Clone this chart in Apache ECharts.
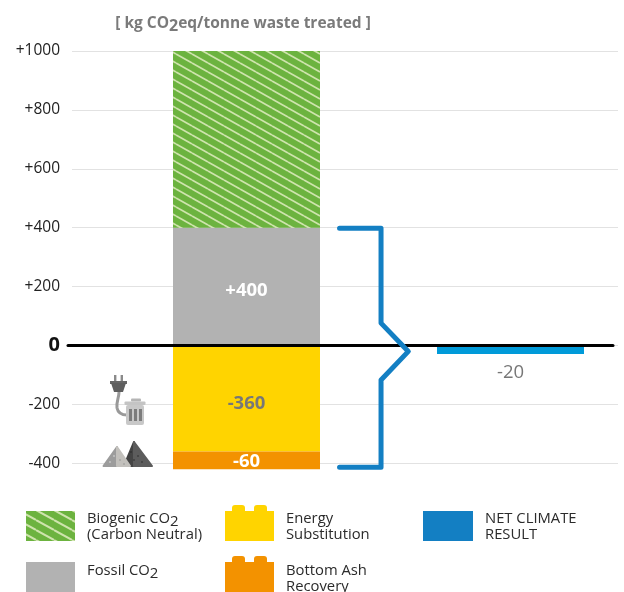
<!DOCTYPE html>
<html><head><meta charset="utf-8">
<style>html,body{margin:0;padding:0;background:#fff}#c{width:624px;height:592px}</style>
<script src="https://cdn.jsdelivr.net/npm/echarts@6/dist/echarts.min.js"></script></head>
<body><div id="c"></div>
<script>
const categories = ['Gross emissions', 'Net climate result'];
const yTicks = {min: -400, max: 1000, step: 200};
const fossil = [400, null];
const biogenic = [600, null];
const energy = [-360, null];
const ash = [-60, null];
const net = [null, -20];
const bracketX = [49.0, 56.6, 56.6, 61.6, 56.6, 56.6, 49.0];
const bracketY = [398, 398, 76, -20, -117, -413, -413];

const FONT = '"Open Sans"';
const chart = echarts.init(document.getElementById('c'), null, {renderer: 'canvas'});

function hatch(w, h, lw) {
  const c = document.createElement('canvas'); c.width = w; c.height = h;
  const g = c.getContext('2d');
  g.fillStyle = '#6cb33f'; g.fillRect(0, 0, w, h);
  g.strokeStyle = '#cfe4ad'; g.lineWidth = lw;
  for (const d of [-h, 0, h]) { g.beginPath(); g.moveTo(0, d); g.lineTo(w, d + h); g.stroke(); }
  return {image: c, repeat: 'repeat'};
}
const barHatch = hatch(16, 9, 1.7);
const swatchHatch = hatch(18, 10, 2);

const sign = v => (v > 0 ? '+' : '') + v;
const barLabel = (color, dy, weight = 'bold') => ({
  show: true, position: 'inside', offset: [0, dy], color, fontFamily: FONT, fontSize: 18.5, fontWeight: weight,
  formatter: p => sign(p.value)
});
const common = {type: 'bar', stack: 'total', xAxisIndex: 1, yAxisIndex: 1, barWidth: 147, z: 2, clip: false};

function txt(x, y, text) {
  return {type: 'text', x, y, z: 30, style: {
    text, fontFamily: FONT, fontSize: 14.8, fill: '#2b2b2b', verticalAlign: 'middle',
    rich: {s: {fontFamily: FONT, fontSize: 15, fill: '#2b2b2b', padding: [5, 0, 0, 0]}}
  }};
}
const rect = (x, y, w, h, fill, r) => ({type: 'rect', z: 30, shape: {x, y, width: w, height: h, r: r || 0}, style: {fill}});
const poly = (points, fill, lw) => ({type: 'polygon', z: 30, shape: {points},
  style: {fill, stroke: lw ? fill : null, lineWidth: lw || 0, lineJoin: 'round'}});
const dot = (x, y, fill) => ({type: 'circle', z: 31, shape: {cx: x, cy: y, r: 0.7}, style: {fill}});
const lego = (x, y, fill) => [
  rect(x, y, 49, 30, fill),
  rect(x + 7, y - 6, 13, 8, fill, [3, 3, 0, 0]),
  rect(x + 29, y - 6, 13, 8, fill, [3, 3, 0, 0])
];

const graphics = [
  rect(26, 511, 49, 30, swatchHatch),
  rect(26, 562, 49, 30, '#b2b2b2'),
  ...lego(225, 511, '#ffd400'),
  ...lego(225, 562, '#f39200'),
  rect(423, 511, 50, 30, '#137fc3'),
  txt(87, 519, 'Biogenic CO{s|2}'), txt(87, 535, '(Carbon Neutral)'),
  txt(87, 571, 'Fossil CO{s|2}'),
  txt(286, 519, 'Energy'), txt(286, 535, 'Substitution'),
  txt(286, 571, 'Bottom Ash'), txt(286, 587, 'Recovery'),
  txt(485, 519, 'NET CLIMATE'), txt(485, 535, 'RESULT'),
  // plug and bin icon
  rect(114, 375, 2.4, 7, '#8a8a8a'), rect(120.6, 375, 2.4, 7, '#8a8a8a'),
  rect(110, 381, 17, 3, '#666'),
  poly([[111, 383], [126, 383], [123, 392], [114, 392]], '#5e5e5e'),
  {type: 'bezierCurve', z: 30, shape: {x1: 119, y1: 392, cpx1: 119, cpy1: 398, cpx2: 116, cpy2: 402, x2: 117, y2: 408},
    style: {fill: 'none', stroke: '#999', lineWidth: 3}},
  {type: 'bezierCurve', z: 30, shape: {x1: 117, y1: 408, cpx1: 118, cpy1: 413, cpx2: 121, cpy2: 415, x2: 127, y2: 415},
    style: {fill: 'none', stroke: '#999', lineWidth: 3}},
  rect(131, 398.5, 10, 3, '#b5b5b5', 1),
  rect(124.5, 401.5, 21, 3.5, '#c4c4c4', 1),
  rect(126, 405, 18, 20, '#c8c8c8', 2),
  rect(129, 409, 3, 12, '#7c7c7c'), rect(134, 409, 3, 12, '#7c7c7c'), rect(139, 409, 3, 12, '#7c7c7c'),
  // ash piles icon
  poly([[134, 442], [124, 466], [134, 466]], '#444', 2),
  poly([[134, 442], [152, 466], [134, 466]], '#5c5c5c', 2),
  poly([[117, 447], [103.5, 466], [117, 466]], '#9c9c9c', 2),
  poly([[117, 447], [117, 466], [130, 466]], '#c2c0bc', 2),
  dot(110, 462, '#eee'), dot(114, 456, '#eee'), dot(120, 460, '#888'), dot(124, 464, '#888'),
  dot(131, 452, '#222'), dot(138, 456, '#222'), dot(142, 462, '#222'), dot(134, 460, '#222')
];

chart.setOption({
  animation: false,
  backgroundColor: '#fff',
  title: {
    text: '[ kg CO{s|2}eq/tonne waste treated ]', left: 238, top: 8, textAlign: 'center',
    textStyle: {
      fontFamily: FONT, fontSize: 15.5, fontWeight: 'bold', color: '#7a7a7a',
      rich: {s: {fontFamily: FONT, fontSize: 16, fontWeight: 'bold', color: '#7a7a7a', padding: [5, 0, 0, 0]}}
    }
  },
  grid: [
    {left: 72, width: 546, top: 51, height: 412.3},
    {left: 246.5, width: 264, top: 51, height: 441.75},
    {left: 68, width: 545, top: 51, height: 412.3}
  ],
  xAxis: [
    {gridIndex: 0, type: 'value', min: 0, max: 100, show: false},
    {gridIndex: 1, type: 'category', data: categories, show: false, boundaryGap: false},
    {gridIndex: 2, type: 'category', data: categories, z: 5,
      axisLine: {show: true, onZero: true, lineStyle: {color: '#000', width: 3}},
      axisTick: {show: false}, axisLabel: {show: false}}
  ],
  yAxis: [
    {gridIndex: 0, type: 'value', min: yTicks.min, max: yTicks.max, interval: yTicks.step,
      axisLine: {show: false}, axisTick: {show: false},
      splitLine: {show: true, lineStyle: {color: '#e2e2e2', width: 1}},
      axisLabel: {
        margin: 12, fontFamily: FONT, fontSize: 15.5, color: '#222',
        formatter: v => v === 0 ? '{z|0}' : sign(v),
        rich: {z: {fontFamily: FONT, fontSize: 20, fontWeight: 'bold', color: '#111'}}
      }},
    {gridIndex: 1, type: 'value', min: -500, max: 1000, show: false, splitLine: {show: false}},
    {gridIndex: 2, type: 'value', min: yTicks.min, max: yTicks.max, show: false, splitLine: {show: false}}
  ],
  series: [
    {...common, name: 'Fossil CO2', data: fossil, itemStyle: {color: '#b2b2b2'}, label: barLabel('#fff', 4)},
    {...common, name: 'Biogenic CO2 (Carbon Neutral)', data: biogenic, itemStyle: {color: barHatch}},
    {...common, name: 'Energy Substitution', data: energy, itemStyle: {color: '#ffd400'}, label: barLabel('#777', 5)},
    {...common, name: 'Bottom Ash Recovery', data: ash, itemStyle: {color: '#f39200'}, label: barLabel('#fff', 1)},
    {...common, name: 'NET CLIMATE RESULT', data: net,
      itemStyle: {color: '#009ad9', shadowColor: '#009ad9', shadowBlur: 0, shadowOffsetY: 2.6},
      label: {...barLabel('#777', 0, 'normal'), position: 'bottom', distance: 12}},
    {type: 'line', name: 'bracket', xAxisIndex: 0, yAxisIndex: 0, clip: false, silent: true, z: 6,
      data: bracketX.map((x, i) => [x, bracketY[i]]), symbol: 'none',
      lineStyle: {color: '#137fc3', width: 5, cap: 'round', join: 'round'}}
  ],
  graphic: graphics
});
</script></body></html>
